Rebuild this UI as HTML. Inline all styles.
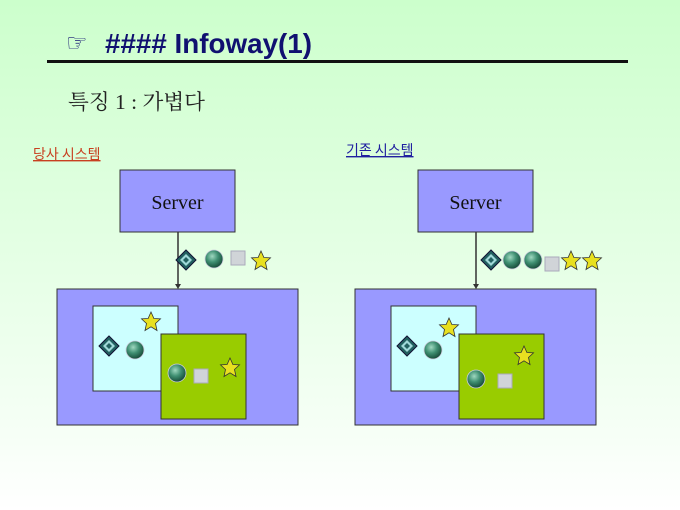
<!DOCTYPE html>
<html><head><meta charset="utf-8"><style>
html,body{margin:0;padding:0}
body{width:680px;height:510px;overflow:hidden;background:linear-gradient(#ccffcc,#f6fff6 85%,#ffffff);}
svg{display:block}
</style></head><body>
<svg width="680" height="510" viewBox="0 0 680 510" xmlns="http://www.w3.org/2000/svg">
<defs>
<radialGradient id="sg" cx="0.4" cy="0.35" r="0.65"><stop offset="0" stop-color="#9fd8c0"/><stop offset="0.5" stop-color="#3f8f72"/><stop offset="1" stop-color="#184d3a"/></radialGradient>
<g id="dia"><path d="M0,-10 L10,0 L0,10 L-10,0Z" fill="#226060" stroke="#113"/><path d="M0,-6 L6,0 L0,6 L-6,0Z" fill="#9fd8d8"/><path d="M0,-3 L3,0 L0,3 L-3,0Z" fill="#226060"/></g>
<g id="sph"><circle r="9" fill="url(#sg)" stroke="#ccd" stroke-width="0.8"/></g>
<g id="sq"><rect x="-7" y="-7" width="14" height="14" fill="#d0d4d8" stroke="#aab"/></g>
<g id="st"><path d="M0,-10 L2.9,-3.5 L9.5,-3.1 L4.5,1.5 L6,8.5 L0,4.8 L-6,8.5 L-4.5,1.5 L-9.5,-3.1 L-2.9,-3.5Z" fill="#e8e020" stroke="#333" stroke-width="0.8"/></g>
</defs>
<text x="66" y="51" font-family="DejaVu Sans,sans-serif" font-size="24" fill="#101070">☞</text>
<text x="105" y="53" font-family="Liberation Sans,sans-serif" font-weight="bold" font-size="28" fill="#101070" textLength="207" lengthAdjust="spacingAndGlyphs">#### Infoway(1)</text>
<rect x="47" y="60" width="581" height="3" fill="#111"/>
<text x="68" y="109" font-family="Liberation Serif,'Noto Serif CJK SC',serif" font-size="21" fill="#222" textLength="137" lengthAdjust="spacingAndGlyphs">특징 1 : 가볍다</text>
<text x="33" y="159" font-family="'Noto Sans CJK KR',sans-serif" font-size="14" fill="#c84020" text-decoration="underline">당사 시스템</text>
<text x="346" y="155" font-family="'Noto Sans CJK KR',sans-serif" font-size="14" fill="#2020a0" text-decoration="underline">기존 시스템</text>
<g font-family="Liberation Serif,serif" font-size="20" fill="#111">
<rect x="120" y="170" width="115" height="62" fill="#9999ff" stroke="#333"/><text x="177.5" y="209" text-anchor="middle">Server</text>
<rect x="418" y="170" width="115" height="62" fill="#9999ff" stroke="#333"/><text x="475.5" y="209" text-anchor="middle">Server</text>
</g>
<line x1="178" y1="232" x2="178" y2="287" stroke="#333" stroke-width="1.5"/><path d="M175,284 L181,284 L178,289Z" fill="#333"/>
<line x1="476" y1="232" x2="476" y2="287" stroke="#333" stroke-width="1.5"/><path d="M473,284 L479,284 L476,289Z" fill="#333"/>
<rect x="57" y="289" width="241" height="136" fill="#9999ff" stroke="#333"/>
<rect x="93" y="306" width="85" height="85" fill="#ccffff" stroke="#333"/>
<rect x="161" y="334" width="85" height="85" fill="#99cc00" stroke="#333"/>
<rect x="355" y="289" width="241" height="136" fill="#9999ff" stroke="#333"/>
<rect x="391" y="306" width="85" height="85" fill="#ccffff" stroke="#333"/>
<rect x="459" y="334" width="85" height="85" fill="#99cc00" stroke="#333"/>
<use href="#dia" x="186" y="260"/><use href="#sph" x="214" y="259"/><use href="#sq" x="238" y="258"/><use href="#st" x="261" y="261"/>
<use href="#dia" x="109" y="346"/><use href="#sph" x="135" y="350"/><use href="#st" x="151" y="322"/><use href="#sph" x="177" y="373"/><use href="#sq" x="201" y="376"/><use href="#st" x="230" y="368"/>
<use href="#dia" x="491" y="260"/><use href="#sph" x="512" y="260"/><use href="#sph" x="533" y="260"/><use href="#sq" x="552" y="264"/><use href="#st" x="571" y="261"/><use href="#st" x="592" y="261"/>
<use href="#dia" x="407" y="346"/><use href="#sph" x="433" y="350"/><use href="#st" x="449" y="328"/><use href="#sph" x="476" y="379"/><use href="#sq" x="505" y="381"/><use href="#st" x="524" y="356"/>
</svg>
</body></html>
